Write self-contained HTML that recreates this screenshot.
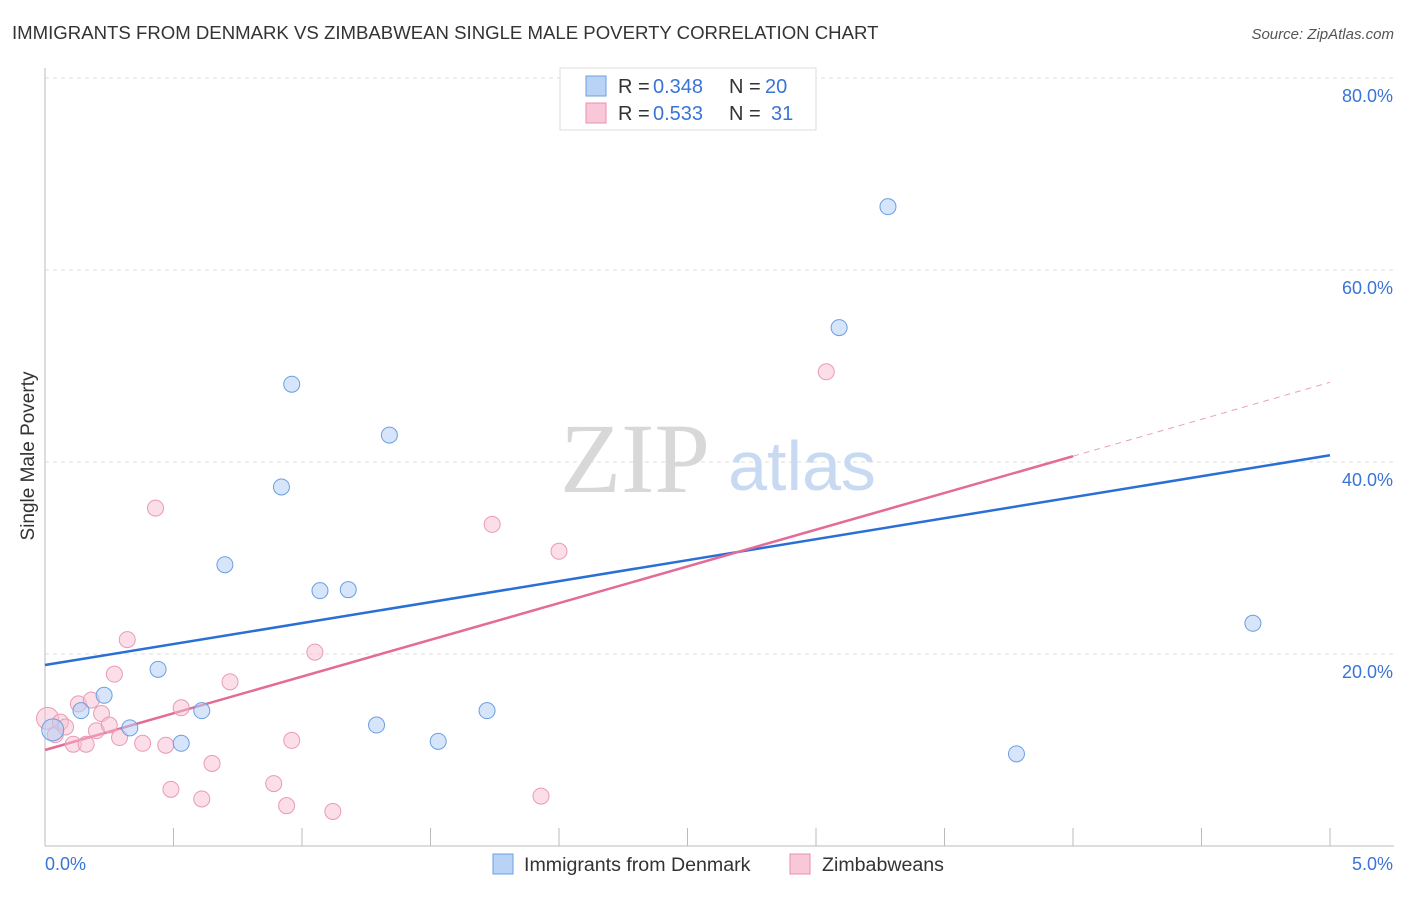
<!DOCTYPE html>
<html><head><meta charset="utf-8"><style>
body{margin:0;background:#fff;font-family:"Liberation Sans",sans-serif}
</style></head><body>
<svg width="1406" height="892" xmlns="http://www.w3.org/2000/svg">
<text x="12" y="39" font-size="18.6" fill="#333">IMMIGRANTS FROM DENMARK VS ZIMBABWEAN SINGLE MALE POVERTY CORRELATION CHART</text>
<text x="1394" y="39" font-size="15" fill="#555" font-style="italic" text-anchor="end">Source: ZipAtlas.com</text>
<g id="grid"></g>
<g id="axes"></g>
<text x="635" y="492" font-size="100" fill="#d8d8d8" font-family="Liberation Serif" text-anchor="middle">ZIP</text>
<text x="802" y="490" font-size="70" fill="#c8daf2" text-anchor="middle">atlas</text>
<text transform="translate(34,456) rotate(-90)" font-size="19" fill="#333" text-anchor="middle">Single Male Poverty</text>
<g id="lines"></g>
<g id="pts"></g>
<g font-size="20">
<rect x="560" y="68" width="256" height="62" fill="#fff" stroke="#ddd"/>
<rect x="586" y="76" width="20" height="20" fill="#b8d3f5" stroke="#6a9fe0"/>
<rect x="586" y="103" width="20" height="20" fill="#f9c8d8" stroke="#e890ae"/>
<text x="618" y="93" fill="#333">R =</text><text x="653" y="93" fill="#3a74d6">0.348</text>
<text x="729" y="93" fill="#333">N =</text><text x="765" y="93" fill="#3a74d6">20</text>
<text x="618" y="120" fill="#333">R =</text><text x="653" y="120" fill="#3a74d6">0.533</text>
<text x="729" y="120" fill="#333">N =</text><text x="771" y="120" fill="#3a74d6">31</text>
</g>
<g>
<rect x="493" y="854" width="20" height="20" fill="#b8d3f5" stroke="#6a9fe0"/>
<text x="524" y="871" font-size="19.6" fill="#333">Immigrants from Denmark</text>
<rect x="790" y="854" width="20" height="20" fill="#f9c8d8" stroke="#e890ae"/>
<text x="822" y="871" font-size="19.6" fill="#333">Zimbabweans</text>
</g>
</svg>
<script>
const yTicks=[20,40,60,80];
const yTickLabels=["20.0%","40.0%","60.0%","80.0%"];
const xTicks=[0,0.5,1,1.5,2,2.5,3,3.5,4,4.5,5];
const blueX=[0.03,0.14,0.23,0.33,0.44,0.53,0.61,0.70,0.92,0.96,1.07,1.18,1.29,1.34,1.53,1.72,3.09,3.28,3.78,4.70];
const blueY=[12.1,14.1,15.7,12.3,18.4,10.7,14.1,29.3,37.4,48.1,26.6,26.7,12.6,42.8,10.9,14.1,54.0,66.6,9.6,23.2];
const pinkX=[0.01,0.04,0.06,0.08,0.11,0.13,0.16,0.18,0.2,0.22,0.25,0.27,0.29,0.32,0.38,0.43,0.47,0.49,0.53,0.61,0.65,0.72,0.89,0.94,0.96,1.05,1.12,1.74,1.93,2.0,3.04];
const pinkY=[13.3,11.6,12.9,12.4,10.6,14.8,10.6,15.2,12.0,13.8,12.6,17.9,11.3,21.5,10.7,35.2,10.5,5.9,14.4,4.9,8.6,17.1,6.5,4.2,11.0,20.2,3.6,33.5,5.2,30.7,49.4];
const blueLine=[[0,18.85],[5,40.7]];
const pinkLine=[[0,10.0],[4,40.6]];
const pinkDash=[[4,40.6],[5,48.3]];
const X=v=>45+v/5*1285, Y=v=>846-v*9.6;
const NS="http://www.w3.org/2000/svg";
function mk(t,a,p){const e=document.createElementNS(NS,t);for(const k in a)e.setAttribute(k,a[k]);document.getElementById(p).appendChild(e);return e;}
yTicks.forEach((v,i)=>{
 const g=mk('line',{x1:45,x2:1394,y1:Y(v),y2:Y(v),stroke:'#ddd','stroke-dasharray':'4,4'},'grid');
 
 
 const t=mk('text',{x:1393,y:Y(v)+24,'font-size':18,fill:'#3a74d6','text-anchor':'end'},'axes');
 t.textContent=yTickLabels[i];
 
 
});
let ax=mk('line',{x1:45,x2:1394,y1:846,y2:846,stroke:'#bbb'},'axes');


let ay=mk('line',{x1:45,x2:45,y1:68,y2:846,stroke:'#bbb'},'axes');


xTicks.forEach(v=>{const l=mk('line',{x1:X(v),x2:X(v),y1:828,y2:846,stroke:'#bbb'},'axes');
 
 });
let t0=mk('text',{x:45,y:870,'font-size':18,fill:'#3a74d6'},'axes');t0.textContent='0.0%';


let t5=mk('text',{x:1393,y:870,'font-size':18,fill:'#3a74d6','text-anchor':'end'},'axes');t5.textContent='5.0%';


function ln(d,c,w,dash,name){const l=mk('line',{x1:X(d[0][0]),y1:Y(d[0][1]),x2:X(d[1][0]),y2:Y(d[1][1]),stroke:c,'stroke-width':w},'lines');if(dash)l.setAttribute('stroke-dasharray',dash);
 
 }
pinkX.forEach((x,i)=>{const c=mk('circle',{cx:X(x),cy:Y(pinkY[i]),r:i==0?11:8,fill:'rgba(248,190,210,0.5)',stroke:'#e99ab5'},'pts');
 
 });
blueX.forEach((x,i)=>{const c=mk('circle',{cx:X(x),cy:Y(blueY[i]),r:i==0?11:8,fill:'rgba(180,208,245,0.55)',stroke:'#6a9fe0'},'pts');
 
 });
ln(blueLine,'#2a6fd6',2.5,null,'denmark-trend-line');
ln(pinkLine,'#e36b98',2.5,null,'zimbabwean-trend-line');
ln(pinkDash,'#e8a0bb',1,'6,5','zimbabwean-trend-extension');
</script>
</body></html>
